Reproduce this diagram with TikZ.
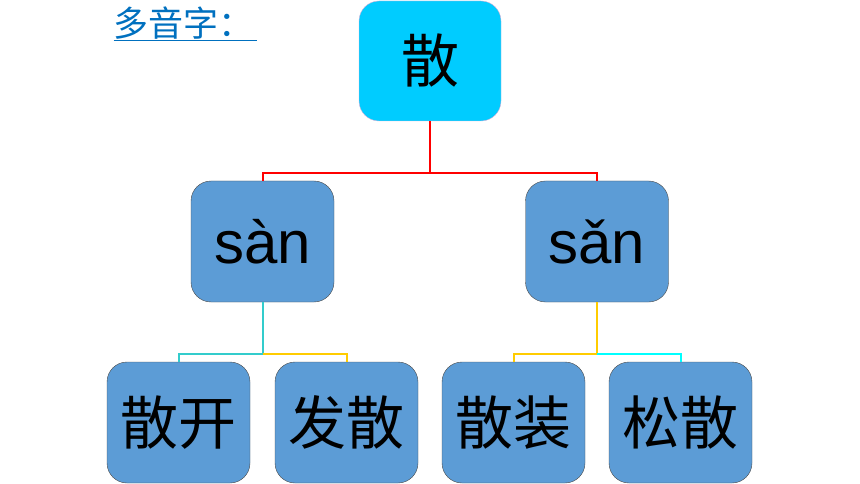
\documentclass[tikz,border=0pt]{standalone}
\usepackage{fontspec}
\setmainfont{Liberation Sans}
\newfontfamily\cjk{Noto Sans CJK SC}
\usepackage{xcolor}
\definecolor{skycyan}{rgb}{0.00, 0.80, 1.00}
\definecolor{cornblue}{rgb}{0.36, 0.61, 0.84}
\definecolor{titleblue}{rgb}{0.00, 0.44, 0.75}
\definecolor{tealline}{rgb}{0.20, 0.80, 0.80}
\definecolor{goldline}{rgb}{1.00, 0.80, 0.00}
\definecolor{aqualine}{rgb}{0.00, 1.00, 1.00}
\usetikzlibrary{positioning, calc}
\tikzstyle{rootbox}=[rectangle, rounded corners=20pt, minimum width=142pt, minimum height=120pt, draw=violet!30, fill=skycyan, font=\cjk\fontsize{58}{58}\selectfont]
\tikzstyle{readbox}=[rectangle, rounded corners=20pt, minimum width=143pt, minimum height=121pt, draw=black!70, fill=cornblue, font=\fontsize{60}{60}\selectfont]
\tikzstyle{wordbox}=[rectangle, rounded corners=20pt, minimum width=143pt, minimum height=121pt, draw=black!70, fill=cornblue, font=\cjk\fontsize{58}{58}\selectfont]
\tikzstyle{link}=[line width=2pt]

\begin{document}
\begin{tikzpicture}[x=1pt, y=-1pt]
	\useasboundingbox (0,0) rectangle (860,484);

		\node[anchor=west, text=titleblue, font=\cjk\fontsize{35}{35}\selectfont] (title) at (110,24) {\underline{多音字：\hspace{3pt}}};

		\node[rootbox] (root) at (430,61) {散};
		\node[readbox] (san4) at (262.5,241.5) {sàn};
		\node[readbox] (san3) at (597,241.5) {sǎn};
		\path (178.5,422.5) node[wordbox] (sankai) {散开}
		(346.5,422.5) node[wordbox] (fasan) {发散}
		(513.5,422.5) node[wordbox] (sanzhuang) {散装}
		(680.5,422.5) node[wordbox] (songsan) {松散};

		% junctions
		\coordinate (jroot) at (430,173);
		\coordinate (jleft) at (262.5,354);
		\coordinate (jright) at (597,354);

		\draw[link, red] (root.south) -- (jroot) -| (san4.north);
		\draw[link, red] (jroot) -| (san3.north);
		\draw[link, tealline] (san4.south) -- (jleft) -| (sankai.north);
		\draw[link, goldline] (jleft) -| (fasan.north);
		\draw[link, goldline] (san3.south) -- (jright) -| (sanzhuang.north);
		\draw[link, aqualine] (jright) -| (songsan.north);
\end{tikzpicture}
\end{document}
